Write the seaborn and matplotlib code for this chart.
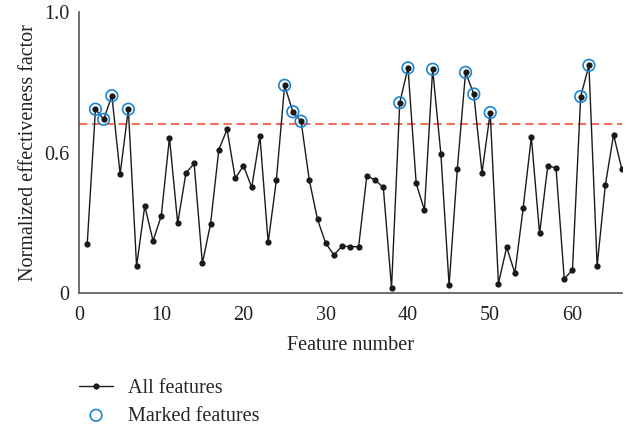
import numpy as np
import pandas as pd
import matplotlib
matplotlib.use("Agg")
import matplotlib.pyplot as plt
import seaborn as sns

features = list(range(1, 67))
values = [0.175, 0.654, 0.618, 0.702, 0.423, 0.654, 0.096, 0.310, 0.186, 0.274,
          0.553, 0.248, 0.427, 0.461, 0.106, 0.247, 0.510, 0.582, 0.408, 0.453,
          0.376, 0.558, 0.180, 0.402, 0.739, 0.645, 0.611, 0.402, 0.262, 0.177,
          0.136, 0.167, 0.165, 0.165, 0.418, 0.402, 0.376, 0.019, 0.677, 0.801,
          0.390, 0.295, 0.796, 0.495, 0.028, 0.442, 0.785, 0.708, 0.428, 0.642,
          0.034, 0.163, 0.071, 0.301, 0.555, 0.212, 0.453, 0.445, 0.051, 0.082,
          0.699, 0.810, 0.097, 0.385, 0.563, 0.441]
threshold = 0.6
xticks = [0, 10, 20, 30, 40, 50, 60]
ytick_pos = [0, 0.5, 1.0]
ytick_labels = ["0", "0.6", "1.0"]
ymark_pos = [0, 0.6, 1.0]

df = pd.DataFrame({"feature": features, "value": values})
marked = df[df["value"] > threshold]

FS = 14.5
sns.set_style("white")
plt.rcParams["font.family"] = ["Liberation Serif", "DejaVu Serif"]
plt.rcParams["font.size"] = FS

fig = plt.figure(figsize=(6.3, 4.26), dpi=100)
ax = fig.add_axes([0.1254, 0.312, 0.8616, 0.66])

ax.axhline(threshold, color="#f0705c", linestyle=(0, (4, 2.3)), linewidth=1.5, zorder=1)
sns.lineplot(data=df, x="feature", y="value", ax=ax, color="#1a1a1a", linewidth=1.0,
             marker="o", markersize=4.5, markeredgewidth=0, label="All features", zorder=3)
sns.scatterplot(data=marked, x="feature", y="value", ax=ax, s=70, facecolor="none",
                edgecolor="#1a86d0", linewidth=1.2, label="Marked features", zorder=4)

ax.set_xlim(0, 66)
ax.set_ylim(0, 1.0)
ax.set_xticks(xticks)
ax.set_yticks(ytick_pos)
ax.set_yticklabels(ytick_labels)
ax.set_yticks(ymark_pos, minor=True)
ax.tick_params(axis="y", which="major", length=0, pad=7, labelsize=FS, colors="#222222")
ax.tick_params(axis="y", which="minor", length=5, direction="in", width=1, color="#555555")
ax.tick_params(axis="x", which="major", length=5, direction="in", width=1, color="#555555",
               labelsize=FS, labelcolor="#222222", pad=9)
ax.set_xlabel("Feature number", fontsize=FS, color="#222222", labelpad=8)
ax.set_ylabel("Normalized effectiveness factor", fontsize=FS, color="#222222", labelpad=4)
for s in ["top", "right"]:
    ax.spines[s].set_visible(False)
for s in ["left", "bottom"]:
    ax.spines[s].set_color("#555555")
    ax.spines[s].set_linewidth(1.2)

ax.legend(loc="upper left", bbox_to_anchor=(-0.015, -0.278), frameon=False, fontsize=FS,
          handlelength=1.7, handletextpad=0.75, labelspacing=0.4, borderaxespad=0)

fig.savefig("out.png", dpi=100)
